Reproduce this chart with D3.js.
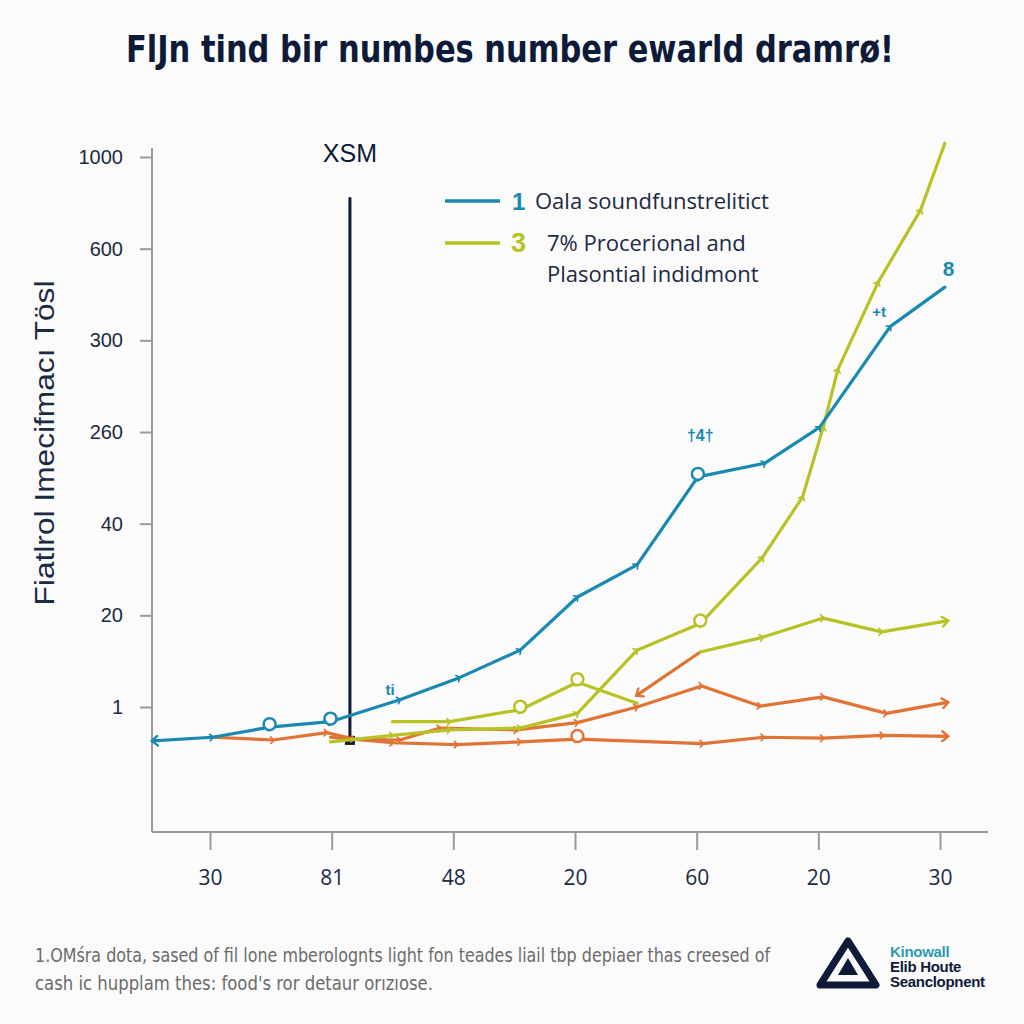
<!DOCTYPE html>
<html><head><meta charset="utf-8">
<script src="https://cdn.jsdelivr.net/npm/d3@7"></script>
<style>html,body{margin:0;padding:0;background:#fbfbfb;}svg{display:block;}</style>
</head><body>
<script>
// ---------- data ----------
const xTickLabels = ["30","81","48","20","60","20","30"];
const yTickLabels = ["1","20","40","260","300","600","1000"]; // bottom -> top
const titleText = "FlJn tind bir numbes number ewarld dramrø!";
const yAxisTitle = "Fiatlrol Imecifmacı Tösl";
const legendItems = [
  {num:"1", lines:["Oala soundfunstrelitict"]},
  {num:"3", lines:["7% Procerional and","Plasontial indidmont"]}
];
const footerLines = ["1.OMśra dota, sased of fil lone mberolognts light fon teades liail tbp depiaer thas creesed of",
                     "cash ic hupplam thes: food's ror detaur orızıose."];
const logoLines = ["Kinowall","Elib Houte","Seanclopnent"];
const markerLabel = "XSM";
const markerX = 1.15;
const markerRange = [-0.37, 5.56];

// series (x in tick-index units, y in tick-index units)
const blueX = [-0.47,0.02,0.49,0.99,1.56,2.05,2.55,3.02,3.51,4.01,4.56,5.01,5.59,6.04];
const blueY = [-0.37,-0.33,-0.22,-0.16,0.08,0.32,0.62,1.20,1.55,2.51,2.66,3.05,4.15,4.58];

const yellow1X = [0.99,1.50,1.97,2.55,3.02,3.51,4.03,4.54,4.87,5.04,5.16,5.49,5.84,6.04];
const yellow1Y = [-0.38,-0.31,-0.25,-0.23,-0.07,0.62,0.91,1.63,2.29,3.05,3.68,4.63,5.42,6.15];

const yellow2X = [1.50,1.97,2.55,3.02,3.51];
const yellow2Y = [-0.16,-0.16,-0.03,0.27,0.04];

const yellow3X = [4.03,4.54,5.04,5.52,6.06];
const yellow3Y = [0.60,0.76,0.97,0.82,0.94];

const orange1X = [3.51,4.03];
const orange1Y = [0.13,0.60];

const orange2X = [0.02,0.52,0.96,1.18,1.56,1.89,2.52,3.02,3.51,4.04,4.52,5.04,5.56,6.06];
const orange2Y = [-0.33,-0.36,-0.28,-0.35,-0.36,-0.23,-0.25,-0.17,0.00,0.23,0.01,0.11,-0.07,0.05];

const orange3X = [0.99,1.50,2.03,2.55,3.02,4.05,4.55,5.04,5.53,6.06];
const orange3Y = [-0.33,-0.39,-0.41,-0.38,-0.35,-0.40,-0.33,-0.34,-0.31,-0.32];

// small hand-written annotations near points
const notes = [
  {t:"ti", x:1.48, y:0.13, c:"blue", s:15},
  {t:"†4†", x:4.03, y:2.90, c:"blue", s:16},
  {t:"+t", x:5.50, y:4.25, c:"blue", s:15},
  {t:"8", x:6.07, y:4.70, c:"blue", s:21}
];

// ---------- styles ----------
const COL = {blue:"#1a89b2", yellow:"#b9c225", orange:"#e07336", navy:"#0d1a38", text:"#1c2a44", axis:"#9a9a9a"};
const W = 1024, H = 1024;

const svg = d3.select("body").append("svg").attr("width",W).attr("height",H)
  .style("font-family","'Liberation Sans', Arial, sans-serif");
svg.append("rect").attr("width",W).attr("height",H).attr("fill","#fbfbfb");

const x = d3.scaleLinear().domain([0,6]).range([210,940]);
const y = d3.scaleLinear().domain([0,6]).range([707,157]);
const plotLeft = 152, plotRight = 988, plotTop = 148, plotBottom = 832;

// defs: markers
const defs = svg.append("defs");
function addArrow(id, color){
  defs.append("marker").attr("id",id).attr("viewBox","-6 -6 12 12")
    .attr("markerWidth",12).attr("markerHeight",12).attr("orient","auto-start-reverse")
    .attr("markerUnits","userSpaceOnUse")
    .append("path").attr("d","M-5,-5 L1,0 L-5,5").attr("fill","none")
    .attr("stroke",color).attr("stroke-width",2.4).attr("stroke-linecap","round");
  defs.append("marker").attr("id",id+"-mid").attr("viewBox","-6 -6 12 12")
    .attr("markerWidth",10).attr("markerHeight",10).attr("orient","auto")
    .attr("markerUnits","userSpaceOnUse")
    .append("path").attr("d","M-3,-4 L1,0 L-3,4").attr("fill","none")
    .attr("stroke",color).attr("stroke-width",2).attr("stroke-linecap","round");
}
addArrow("ab",COL.blue); addArrow("ay",COL.yellow); addArrow("ao",COL.orange);

// title
svg.append("text").attr("x",510).attr("y",62).attr("text-anchor","middle")
  .attr("font-family","'Liberation Sans Narrow','DejaVu Sans Condensed',sans-serif")
  .attr("font-weight","bold").attr("font-size",38).attr("fill",COL.navy)
  .attr("textLength",768).attr("lengthAdjust","spacingAndGlyphs").text(titleText);

// axes frame
const g = svg.append("g");
g.append("line").attr("x1",plotLeft).attr("x2",plotLeft).attr("y1",plotTop).attr("y2",plotBottom)
  .attr("stroke",COL.axis).attr("stroke-width",2);
g.append("line").attr("x1",plotLeft).attr("x2",plotRight).attr("y1",plotBottom).attr("y2",plotBottom)
  .attr("stroke",COL.axis).attr("stroke-width",2);

// y axis
const yAxis = g.append("g").attr("transform",`translate(${plotLeft},0)`)
  .call(d3.axisLeft(y).tickValues(d3.range(7)).tickFormat(i=>yTickLabels[i]).tickSize(12).tickPadding(16));
yAxis.select(".domain").remove();
yAxis.selectAll(".tick line").attr("stroke",COL.axis).attr("stroke-width",2);
yAxis.selectAll(".tick text").attr("font-size",20).attr("fill",COL.text)
  .attr("font-family","'Liberation Sans', Arial, sans-serif").attr("dx",-1);

// x axis
const xAxis = g.append("g").attr("transform",`translate(0,${plotBottom})`)
  .call(d3.axisBottom(x).tickValues(d3.range(7)).tickFormat(i=>xTickLabels[i]).tickSize(18).tickPadding(20));
xAxis.select(".domain").remove();
xAxis.selectAll(".tick line").attr("stroke",COL.axis).attr("stroke-width",2);
xAxis.selectAll(".tick text").attr("font-size",21).attr("fill",COL.text)
  .attr("font-family","'Open Sans','DejaVu Sans',sans-serif");

// y axis title
svg.append("text").attr("transform","translate(54,443) rotate(-90)").attr("text-anchor","middle")
  .attr("font-size",27).attr("fill",COL.text).attr("textLength",325).attr("lengthAdjust","spacingAndGlyphs")
  .text(yAxisTitle);

// XSM marker line
svg.append("line").attr("x1",x(markerX)).attr("x2",x(markerX))
  .attr("y1",y(markerRange[1])).attr("y2",y(markerRange[0]))
  .attr("stroke",COL.navy).attr("stroke-width",3);
svg.append("rect").attr("x",x(markerX)-5).attr("y",y(markerRange[0])-5).attr("width",10).attr("height",9)
  .attr("fill",COL.navy);
svg.append("text").attr("x",x(markerX)).attr("y",162).attr("text-anchor","middle")
  .attr("font-size",25).attr("fill",COL.navy).text(markerLabel);

// lines
const lineGen = d3.line().x(d=>x(d[0])).y(d=>y(d[1]));
const series = [
  {xs:orange3X, ys:orange3Y, c:COL.orange, m:"ao", start:false, end:true},
  {xs:orange2X, ys:orange2Y, c:COL.orange, m:"ao", start:false, end:true},
  {xs:orange1X, ys:orange1Y, c:COL.orange, m:"ao", start:true, end:false},
  {xs:yellow2X, ys:yellow2Y, c:COL.yellow, m:"ay", start:false, end:false},
  {xs:yellow3X, ys:yellow3Y, c:COL.yellow, m:"ay", start:false, end:true},
  {xs:yellow1X, ys:yellow1Y, c:COL.yellow, m:"ay", start:false, end:false},
  {xs:blueX, ys:blueY, c:COL.blue, m:"ab", start:true, end:false}
];
series.forEach(s=>{
  const pts = s.xs.map((v,i)=>[v,s.ys[i]]);
  const p = svg.append("path").datum(pts).attr("d",lineGen).attr("fill","none")
    .attr("stroke",s.c).attr("stroke-width",3.2).attr("stroke-linejoin","round").attr("stroke-linecap","round")
    .attr("marker-mid",`url(#${s.m}-mid)`);
  if(s.start) p.attr("marker-start",`url(#${s.m})`);
  if(s.end) p.attr("marker-end",`url(#${s.m})`);
});

// circle markers at a few points
const circ = [
  {xs:blueX, ys:blueY, idx:[2,3,9], c:COL.blue},
  {xs:yellow2X, ys:yellow2Y, idx:[2,3], c:COL.yellow},
  {xs:yellow1X, ys:yellow1Y, idx:[6], c:COL.yellow},
  {xs:orange3X, ys:orange3Y, idx:[4], c:COL.orange}
];
circ.forEach(s=>{
  svg.selectAll(null).data(s.idx).enter().append("circle")
    .attr("cx",i=>x(s.xs[i])).attr("cy",i=>y(s.ys[i])-3).attr("r",6)
    .attr("fill","#fbfbfb").attr("stroke",s.c).attr("stroke-width",2.5);
});

// annotations
svg.selectAll(".note").data(notes).enter().append("text").attr("class","note")
  .attr("x",d=>x(d.x)).attr("y",d=>y(d.y)).attr("text-anchor","middle")
  .attr("font-size",d=>d.s).attr("font-weight","bold").attr("fill",d=>COL[d.c]).text(d=>d.t);

// legend
const leg = svg.append("g");
const legCols = [COL.blue, COL.yellow];
const legY = [201, 243];
legendItems.forEach((it,i)=>{
  leg.append("line").attr("x1",445).attr("x2",500).attr("y1",legY[i]).attr("y2",legY[i])
    .attr("stroke",legCols[i]).attr("stroke-width",3.5);
  leg.append("text").attr("x",i===0?512:511).attr("y",legY[i]+9).attr("font-size",i===0?24:27)
    .attr("font-weight","bold").attr("fill",legCols[i]).text(it.num);
  it.lines.forEach((ln,j)=>{
    leg.append("text").attr("x",i===0?535:547).attr("y",legY[i]+8+j*31).attr("font-size",22)
      .attr("fill",COL.text).attr("font-family","'Open Sans','DejaVu Sans',sans-serif").text(ln);
  });
});

// footer
footerLines.forEach((t,i)=>{
  const tx = svg.append("text").attr("x",35).attr("y",962+i*28).attr("font-size",19).attr("fill","#6b6b6b")
    .attr("font-family","'Liberation Sans Narrow','DejaVu Sans Condensed',sans-serif").text(t);
  tx.attr("textLength", i===0?735:398).attr("lengthAdjust","spacingAndGlyphs");
});

// logo
const logo = svg.append("g");
logo.append("path").attr("d","M848,941 L876,985 L820,985 Z").attr("fill","none")
  .attr("stroke",COL.navy).attr("stroke-width",7).attr("stroke-linejoin","round");
logo.append("path").attr("d","M848,958 L858,975 L838,975 Z").attr("fill",COL.navy);
logoLines.forEach((t,i)=>{
  logo.append("text").attr("x",890).attr("y",957+i*15).attr("font-size",15).attr("font-weight","bold")
    .attr("fill",i===0?"#2b9bb0":COL.navy).attr("letter-spacing",-0.3).text(t);
});
</script>
</body></html>
